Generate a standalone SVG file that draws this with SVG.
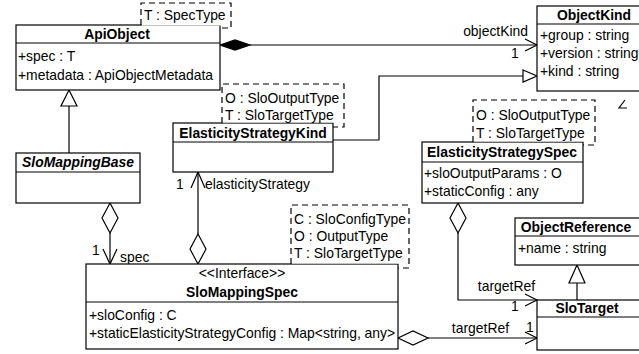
<svg xmlns="http://www.w3.org/2000/svg" width="639" height="354" viewBox="0 0 639 354">
  <style>
    text { font-family: "Liberation Sans", Arial, Helvetica, sans-serif; font-size: 13.9px; fill: #000; }
    .title { font-weight: bold; text-anchor: middle; }
    .italic { font-style: italic; }
    .mid { text-anchor: middle; }
    .end { text-anchor: end; }
    .box { fill: #fff; stroke: #000; stroke-width: 1.2; }
    .sep { stroke: #000; stroke-width: 1.2; }
    .tplfill { fill: #fff; stroke: none; }
    .tpl { fill: none; stroke: #000; stroke-width: 1.2; stroke-dasharray: 6 4; }
    .line { fill: none; stroke: #000; stroke-width: 1.2; }
    .hollow { fill: #fff; stroke: #000; stroke-width: 1.2; }
    .solid { fill: #000; stroke: #000; stroke-width: 1.2; }
  </style>

  <!-- connectors -->
  <g id="connectors">
    <!-- ApiObject composes ObjectKind -->
    <path class="line" d="M250,45 H537"/>
    <polygon class="solid" points="220,45 235,40 250,45 235,50"/>
    <path class="line" d="M525,39 L537,45 L525,51"/>
    <text class="end" x="528" y="36">objectKind</text>
    <text x="511" y="58">1</text>

    <!-- ElasticityStrategyKind generalizes ObjectKind -->
    <path class="line" d="M333,140 H379 V76 H523"/>
    <polygon class="hollow" points="523,70 537,76 523,82"/>

    <!-- SloMappingBase generalizes ApiObject -->
    <path class="line" d="M69,106 V153"/>
    <polygon class="hollow" points="69,90 77,106 61,106"/>

    <!-- SloMappingBase aggregates SloMappingSpec (spec) -->
    <path class="line" d="M110,233 V264"/>
    <polygon class="hollow" points="110,203 118,218 110,233 102,218"/>
    <path class="line" d="M103,249 L110,264 L117,249"/>
    <text x="92" y="255">1</text>
    <text x="120" y="262">spec</text>

    <!-- SloMappingSpec aggregates ElasticityStrategyKind -->
    <path class="line" d="M198,234 V172"/>
    <polygon class="hollow" points="198,234 206,249 198,264 190,249"/>
    <path class="line" d="M191,188 L198,172 L205,188"/>
    <text x="176" y="189">1</text>
    <text x="205" y="189">elasticityStrategy</text>

    <!-- ElasticityStrategySpec aggregates SloTarget -->
    <path class="line" d="M458,233 V300 H537"/>
    <polygon class="hollow" points="458,203 466,218 458,233 450,218"/>
    <path class="line" d="M525,294 L537,300 L525,306"/>
    <text class="end" x="535" y="291">targetRef</text>
    <text x="511" y="311">1</text>

    <!-- SloMappingSpec aggregates SloTarget -->
    <path class="line" d="M428,338 H537"/>
    <polygon class="hollow" points="398,338 413,331 428,338 413,345"/>
    <path class="line" d="M525,332 L537,338 L525,344"/>
    <text class="end" x="509" y="333">targetRef</text>
    <text x="526" y="332">1</text>

    <!-- SloTarget generalizes ObjectReference -->
    <path class="line" d="M577,283 V300"/>
    <polygon class="hollow" points="577,265 585,283 569,283"/>

    <!-- generalization head below ObjectKind -->
    <path class="line" d="M625,100 L619,108 H627"/>
  </g>

  <!-- ApiObject -->
  <g id="ApiObject">
    <rect class="box" x="16" y="25" width="204" height="65"/>
    <line class="sep" x1="16" y1="43" x2="220" y2="43"/>
    <rect class="tplfill" x="141.6" y="3" width="89" height="22.6"/>
    <path class="tpl" d="M141,25 V3 H231 V28 H220"/>
    <text x="144" y="20">T : SpecType</text>
    <text class="title" x="117" y="39">ApiObject</text>
    <text x="18" y="61">+spec : T</text>
    <text x="18" y="80">+metadata : ApiObjectMetadata</text>
  </g>

  <!-- ObjectKind -->
  <g id="ObjectKind">
    <rect class="box" x="537" y="6" width="112" height="85"/>
    <line class="sep" x1="537" y1="24" x2="649" y2="24"/>
    <text class="title" x="594" y="20">ObjectKind</text>
    <text x="540" y="40">+group : string</text>
    <text x="540" y="58">+version : string</text>
    <text x="540" y="76">+kind : string</text>
  </g>

  <!-- ElasticityStrategyKind -->
  <g id="ElasticityStrategyKind">
    <rect class="box" x="173" y="123" width="160" height="49"/>
    <line class="sep" x1="173" y1="142" x2="333" y2="142"/>
    <rect class="tplfill" x="222.6" y="84" width="121" height="38.6"/>
    <path class="tpl" d="M222,123 V84 H344 V127 H333"/>
    <text x="225" y="103">O : SloOutputType</text>
    <text x="225" y="120">T : SloTargetType</text>
    <text class="title" x="253" y="138">ElasticityStrategyKind</text>
  </g>

  <!-- SloMappingBase -->
  <g id="SloMappingBase">
    <rect class="box" x="16" y="153" width="124" height="50"/>
    <line class="sep" x1="16" y1="172" x2="140" y2="172"/>
    <text class="title italic" x="78" y="167">SloMappingBase</text>
  </g>

  <!-- ElasticityStrategySpec -->
  <g id="ElasticityStrategySpec">
    <rect class="box" x="422" y="142" width="161" height="61"/>
    <line class="sep" x1="422" y1="162" x2="583" y2="162"/>
    <rect class="tplfill" x="473.6" y="100" width="121" height="41.6"/>
    <path class="tpl" d="M473,142 V100 H595 V145 H583"/>
    <text x="476" y="120">O : SloOutputType</text>
    <text x="476" y="138">T : SloTargetType</text>
    <text class="title" x="502" y="157">ElasticityStrategySpec</text>
    <text x="424" y="178">+sloOutputParams : O</text>
    <text x="424" y="196">+staticConfig : any</text>
  </g>

  <!-- ObjectReference -->
  <g id="ObjectReference">
    <rect class="box" x="515" y="218" width="130" height="47"/>
    <line class="sep" x1="515" y1="236" x2="645" y2="236"/>
    <text class="title" x="576" y="232">ObjectReference</text>
    <text x="518" y="253">+name : string</text>
  </g>

  <!-- SloTarget -->
  <g id="SloTarget">
    <rect class="box" x="537" y="300" width="110" height="50"/>
    <line class="sep" x1="537" y1="317" x2="647" y2="317"/>
    <text class="title" x="587" y="313">SloTarget</text>
  </g>

  <!-- SloMappingSpec -->
  <g id="SloMappingSpec">
    <rect class="box" x="86" y="264" width="312" height="85"/>
    <line class="sep" x1="86" y1="302" x2="398" y2="302"/>
    <rect class="tplfill" x="291.6" y="205" width="117" height="58.6"/>
    <path class="tpl" d="M291,264 V205 H409 V268 H398"/>
    <text x="294" y="224">C : SloConfigType</text>
    <text x="294" y="241">O : OutputType</text>
    <text x="294" y="258">T : SloTargetType</text>
    <text class="mid" x="242" y="278">&lt;&lt;Interface&gt;&gt;</text>
    <text class="title" x="242" y="297">SloMappingSpec</text>
    <text x="89" y="320">+sloConfig : C</text>
    <text x="89" y="338">+staticElasticityStrategyConfig : Map&lt;string, any&gt;</text>
  </g>
</svg>
